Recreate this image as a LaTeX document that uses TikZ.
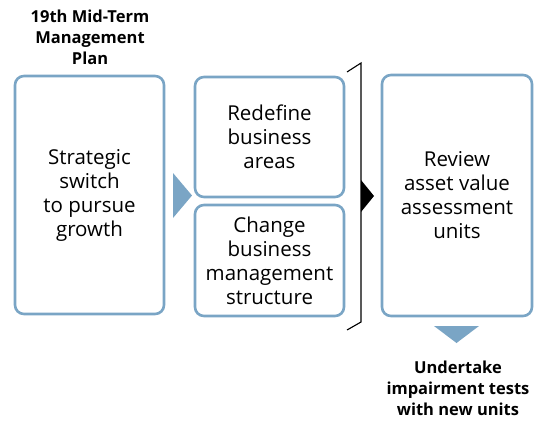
\documentclass[tikz,border=0pt]{standalone}
\usepackage{fontspec}
\setmainfont{Open Sans}
\definecolor{boxblue}{RGB}{122,165,197}
\begin{document}
\begin{tikzpicture}[x=1pt,y=-1pt,
  box/.style={draw=boxblue, line width=2.6pt, rounded corners=9pt, align=center, font=\fontsize{20.5}{24}\selectfont, inner sep=0pt},
  lbl/.style={align=center, font=\bfseries\fontsize{16.5}{21}\selectfont, inner sep=0pt}]
\useasboundingbox (0,0) rectangle (538,421);
\node[box, minimum width=149pt, minimum height=238pt] (s) at (89.5,195) {Strategic\\switch\\to pursue\\growth};
\node[box, minimum width=149pt, minimum height=120pt] (r) at (269.5,137) {Redefine\\business\\areas};
\node[box, minimum width=149pt, minimum height=111pt] (c) at (269.5,260.5) {Change\\business\\management\\structure};
\node[box, minimum width=150pt, minimum height=241pt] (v) at (457,195.5) {Review\\asset value\\assessment\\units};
\node[lbl] (t) at (90,37) {19th Mid-Term\\Management\\Plan};
\node[lbl] (u) at (458,388) {Undertake\\impairment tests\\with new units};
% blue right triangle
\fill[boxblue] (173,173) -- (192,195.5) -- (173,218) -- cycle;
% bracket
\draw[line width=1.1pt] (347,72) -- (361,63) -- (361,322) -- (347,330);
% black triangle
\fill[black] (361,180) -- (374,196) -- (361,212) -- cycle;
% down triangle
\fill[boxblue] (434,326) -- (479,326) -- (456.5,343) -- cycle;
\end{tikzpicture}
\end{document}
